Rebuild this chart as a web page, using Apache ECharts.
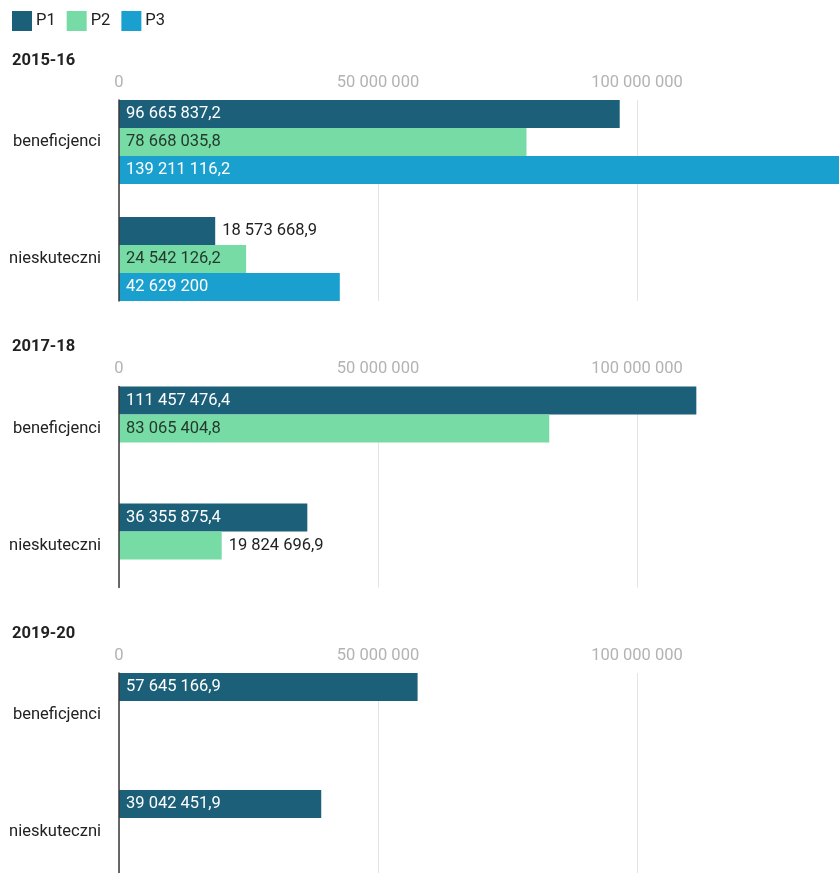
<!DOCTYPE html>
<html>
<head>
<meta charset="utf-8">
<script src="https://cdn.jsdelivr.net/npm/echarts@6/dist/echarts.min.js"></script>
<style>
html,body{margin:0;padding:0;background:#fff;}
#c{width:839px;height:873px;}
</style>
</head>
<body>
<div id="c"></div>
<script>
// ---- data ----
const seriesNames = ['P1', 'P2', 'P3'];
const categories = ['beneficjenci', 'nieskuteczni'];
const periods = ['2015-16', '2017-18', '2019-20'];
const p1_2015 = [96665837.2, 18573668.9];
const p2_2015 = [78668035.8, 24542126.2];
const p3_2015 = [139211116.2, 42629200];
const p1_2017 = [111457476.4, 36355875.4];
const p2_2017 = [83065404.8, 19824696.9];
const p3_2017 = [null, null];
const p1_2019 = [57645166.9, 39042451.9];
const p2_2019 = [null, null];
const p3_2019 = [null, null];
const tickValues = [0, 50000000, 100000000];

const panelData = [
  [p1_2015, p2_2015, p3_2015],
  [p1_2017, p2_2017, p3_2017],
  [p1_2019, p2_2019, p3_2019]
];

// ---- styling ----
const colors = ['#1b5f79', '#77dba6', '#1aa0ce'];
const insideText = ['#ffffff', '#233a2c', '#ffffff'];
const FONT = 'Roboto';
const FS = 16.5;
const LEFT = 119, PLOT_W = 724;
const X_MAX = 139000000 * PLOT_W / 720;
const panelStarts = [100, 386.5, 673];
const BAND = 117, GROUP = 84;

function fmt(v) {
  const s = String(v);
  const parts = s.split('.');
  const intPart = parts[0].replace(/\B(?=(\d{3})+(?!\d))/g, ' ');
  return parts.length > 1 ? intPart + ',' + parts[1] : intPart;
}
const ctx = document.createElement('canvas').getContext('2d');
ctx.font = FS + 'px ' + FONT;
function textW(t) { return ctx.measureText(t).width; }

const grids = [], xAxes = [], yAxes = [], series = [], titles = [];
panelData.forEach((panel, pi) => {
  const start = panelStarts[pi];
  const overlayIdx = grids.length;
  // overlay grid: gridlines, axis line, tick labels
  grids.push({ left: LEFT, width: PLOT_W, top: start, height: 201, outerBoundsMode: 'none', containLabel: false });
  xAxes.push({
    gridIndex: overlayIdx, type: 'value', position: 'top', min: 0, max: X_MAX, interval: 50000000,
    axisLine: { show: false }, axisTick: { show: false },
    splitLine: { show: true, lineStyle: { color: '#e4e4e4', width: 1 } },
    axisLabel: {
      color: '#b3b3b3', fontFamily: FONT, fontSize: FS, margin: 9,
      formatter: v => tickValues.indexOf(v) >= 0 ? fmt(v) : ''
    }
  });
  yAxes.push({
    gridIndex: overlayIdx, type: 'value', min: 0, max: 1, z: 5,
    axisLine: { show: true, lineStyle: { color: '#3a3a3a', width: 1.5 } },
    axisTick: { show: false }, axisLabel: { show: false }, splitLine: { show: false }
  });
  // bar grid
  const barIdx = grids.length;
  grids.push({ left: LEFT, width: PLOT_W, top: start - (BAND - GROUP) / 2, height: BAND * 2, outerBoundsMode: 'none', containLabel: false });
  xAxes.push({
    gridIndex: barIdx, type: 'value', min: 0, max: X_MAX, show: true,
    axisLine: { show: false }, axisTick: { show: false }, axisLabel: { show: false }, splitLine: { show: false }
  });
  yAxes.push({
    gridIndex: barIdx, type: 'category', data: categories, inverse: true,
    axisLine: { show: false }, axisTick: { show: false }, splitLine: { show: false },
    axisLabel: { color: '#222', fontFamily: FONT, fontSize: FS, margin: 18 }
  });
  titles.push({
    text: periods[pi], left: 7, top: start - 53,
    textStyle: { fontFamily: FONT, fontSize: FS, fontWeight: 'bold', color: '#222' }
  });
  panel.forEach((vals, si) => {
    series.push({
      name: seriesNames[si], type: 'bar', xAxisIndex: barIdx, yAxisIndex: barIdx,
      barWidth: 28, barGap: '0%', itemStyle: { color: colors[si] },
      data: vals.map(v => {
        if (v == null) return null;
        const label = fmt(v);
        const pxW = v / X_MAX * PLOT_W;
        const fits = textW(label) + 14 <= pxW;
        return {
          value: v,
          label: fits
            ? { show: true, position: 'insideLeft', distance: 7, color: insideText[si] }
            : { show: true, position: 'right', distance: 7, color: '#222' }
        };
      }),
      label: { show: true, fontFamily: FONT, fontSize: FS, formatter: p => fmt(p.value) },
      animation: false
    });
  });
});

const chart = echarts.init(document.getElementById('c'), null, { renderer: 'canvas' });
chart.setOption({
  animation: false,
  backgroundColor: '#fff',
  title: titles,
  legend: {
    left: 7, top: 6, itemWidth: 20, itemHeight: 20, itemGap: 11, icon: 'rect',
    data: seriesNames,
    textStyle: { fontFamily: FONT, fontSize: FS, color: '#222', padding: [0, 0, 0, -1] }
  },
  grid: grids, xAxis: xAxes, yAxis: yAxes, series: series
});
</script>
</body>
</html>
